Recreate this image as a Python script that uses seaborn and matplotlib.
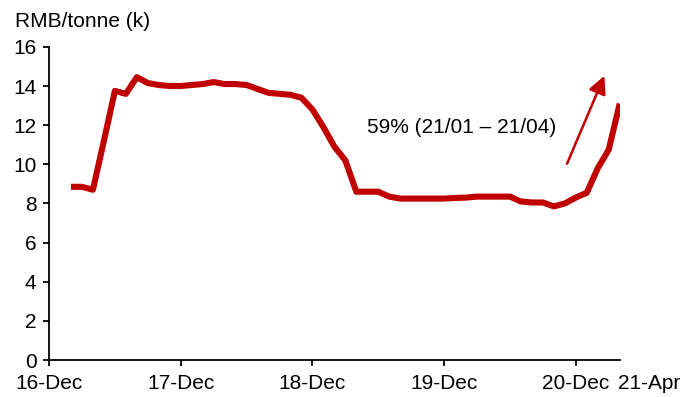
import matplotlib
matplotlib.use("Agg")
import matplotlib.pyplot as plt
import seaborn as sns
import pandas as pd

# months since Dec 2016
months = [2, 3, 4, 5, 6, 7, 8, 9, 10, 11, 12, 13, 14, 15, 16, 17, 18, 19, 20,
          21, 22, 23, 24, 25, 26, 27, 28, 29, 30, 31, 32, 33, 34, 35, 36, 37,
          38, 39, 40, 41, 42, 43, 44, 45, 46, 47, 48, 49, 50, 51, 52]
price = [8.85, 8.85, 8.7, 11.2, 13.75, 13.6, 14.45, 14.15, 14.05, 14.0, 14.0,
         14.05, 14.1, 14.2, 14.1, 14.1, 14.05, 13.85, 13.65, 13.6, 13.55, 13.4,
         12.8, 11.9, 10.9, 10.2, 8.6, 8.6, 8.6, 8.35, 8.25, 8.25, 8.25, 8.25,
         8.25, 8.28, 8.3, 8.35, 8.35, 8.35, 8.35, 8.1, 8.05, 8.05, 7.85, 8.0,
         8.3, 8.55, 9.8, 10.75, 13.1]
tick_pos = [0, 12, 24, 36, 48]
tick_labels = ["16-Dec", "17-Dec", "18-Dec", "19-Dec", "20-Dec"]
end_label = "21-Apr"
y_ticks = [0, 2, 4, 6, 8, 10, 12, 14, 16]
unit_label = "RMB/tonne (k)"
note = "59% (21/01 \u2013 21/04)"

sns.set_theme(style="ticks")
plt.rcParams['font.family'] = ['Liberation Sans', 'DejaVu Sans']
FS = 15

df = pd.DataFrame({"month": months, "price": price})
fig = plt.figure(figsize=(6.81, 3.97), dpi=100)
ax = fig.add_axes([0.072, 0.093, 0.838, 0.789])
sns.lineplot(data=df, x="month", y="price", ax=ax, color="#C00000",
             linewidth=4.4, solid_joinstyle="round", solid_capstyle="butt")
ax.set_xlim(0, 52)
ax.set_ylim(0, 16)
ax.set_xticks(tick_pos)
ax.set_xticklabels(tick_labels)
ax.set_yticks(y_ticks)
ax.set_xlabel("")
ax.set_ylabel("")
for s in ["top", "right"]:
    ax.spines[s].set_visible(False)
for s in ["left", "bottom"]:
    ax.spines[s].set_color("black")
    ax.spines[s].set_linewidth(1.3)
ax.tick_params(axis="both", colors="black", labelsize=FS, length=4, width=1.3,
               direction="out")
ax.tick_params(axis="x", pad=6)
ax.tick_params(axis="y", pad=5)
ax.annotate(end_label, xy=(52, 0), xycoords="data", xytext=(-1, -10),
            textcoords="offset points", ha="left", va="top", fontsize=FS,
            color="black", annotation_clip=False)
fig.text(0.022, 0.945, unit_label, ha="left", va="center", fontsize=FS, color="black")
ax.text(29, 11.9, note, ha="left", va="center", fontsize=FS, color="black")
ax.annotate("", xy=(50.7, 14.65), xytext=(47.1, 9.9),
            arrowprops=dict(arrowstyle="-|>,head_length=0.9,head_width=0.45",
                            color="#C00000", lw=1.8))
fig.savefig("out.png", dpi=100)
